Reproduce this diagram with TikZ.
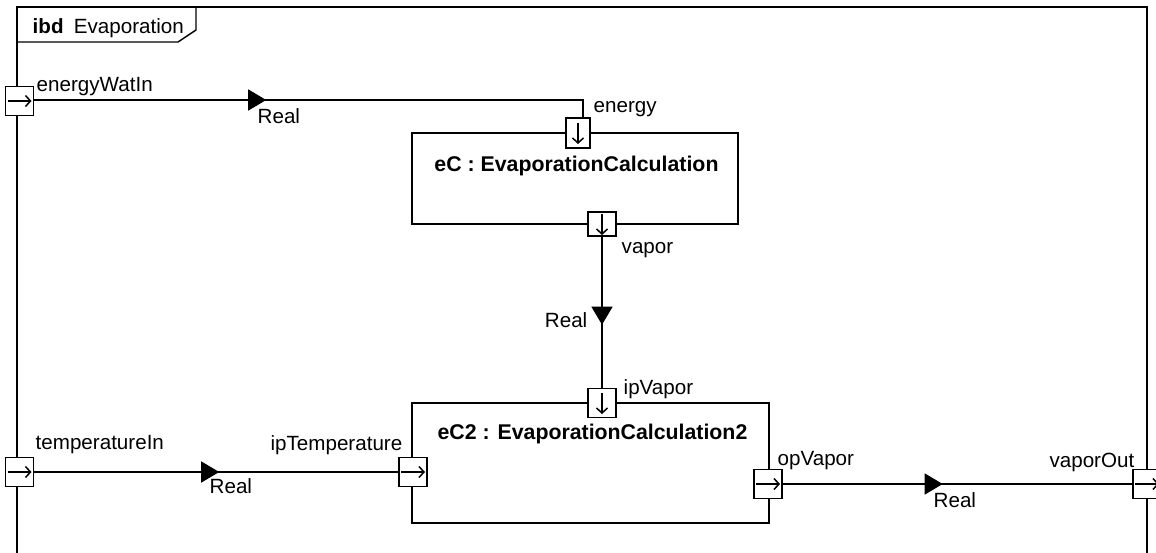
\documentclass[tikz,border=0pt]{standalone}
\usepackage{fontspec}
\setmainfont{Liberation Sans}
\usetikzlibrary{arrows.meta, positioning, decorations.markings}

\begin{document}
\begin{tikzpicture}[
    x=1pt, y=-1pt,
    line width=1.4pt,
    lbl/.style={font=\fontsize{20.6}{23}\selectfont, inner sep=0pt},
    hdr/.style={font=\fontsize{21.3}{23}\selectfont\bfseries, inner sep=0pt},
    block/.style={draw, inner sep=0pt},
    port/.style={draw, fill=white, inner sep=0pt, minimum width=28pt, minimum height=29pt},
    dir/.style={line width=1.5pt, -{Straight Barb[length=5pt,width=11pt]}},
    flow/.style={postaction={decorate}, decoration={markings, mark=at position #1 with {\arrow{Triangle[length=18pt,width=21pt]}}}}
]
\useasboundingbox (0,0) rectangle (1156,552);
% frame
\draw (17,565) -- (17,7) -- (1147,7) -- (1147,565);
\draw (17,42) -- (178,42) -- (196,30) -- (196,7);
\node[lbl, anchor=base west] (ttl) at (32,33) {\textbf{ibd}\enspace Evaporation};

% parts
\node[block, minimum width=326pt, minimum height=91pt] (eC) at (575,178.5) {};
\node[hdr, anchor=base] (eCname) at (576.5,171) {eC : EvaporationCalculation};
\node[block, minimum width=357pt, minimum height=120pt] (eC2) at (590.5,463) {};
\node[hdr, anchor=base] (eC2name) at (592.5,439) {eC2 : EvaporationCalculation2};

% ports
\node[port] (pEnergyIn) at (19.5,101) {};
\node[port] (pTempIn) at (19.5,472) {};
\node[port] (pVaporOut) at (1147,484) {};
\node[port, minimum width=24pt, minimum height=30pt] (pEnergy) at (578,133) {};
\node[port, minimum height=24pt] (pVapor) at (602,224) {};
\node[port] (pIpVapor) at (602,403) {};
\node[port] (pIpTemp) at (413,472) {};
\node[port] (pOpVapor) at (768,484) {};
\foreach \p in {pEnergyIn, pTempIn, pVaporOut, pIpTemp, pOpVapor}
  \draw[dir] ([xshift=-12pt]\p.center) -- ([xshift=12pt]\p.center);
\foreach \p in {pEnergy, pVapor, pIpVapor}
  \draw[dir] ([yshift=10pt]\p.center) -- ([yshift=-11pt]\p.center);

% port names
\node[lbl, anchor=base west] at (36,91) {energyWatIn};
\node[lbl, anchor=base west] at (593,112) {energy};
\node[lbl, anchor=base west] at (621,253) {vapor};
\node[lbl, anchor=base west] at (623,394) {ipVapor};
\node[lbl, anchor=base west] at (35,449) {temperatureIn};
\node[lbl, anchor=base east] at (403,450) {ipTemperature};
\node[lbl, anchor=base west] at (777,465) {opVapor};
\node[lbl, anchor=base east] at (1135,467) {vaporOut};

% connectors
\draw[flow=232pt] (pEnergyIn.east |- 0,100) -- (583,100) coordinate (bend) -- (bend |- pEnergy.north);
\draw[flow=88pt] (pVapor) -- (pIpVapor);
\draw[flow=185pt] (pTempIn) -- (pIpTemp);
\draw[flow=160pt] (pOpVapor) -- (pVaporOut);

% item flow types
\node[lbl, anchor=base west] at (257,123) {Real};
\node[lbl, anchor=base east] at (588,327) {Real};
\node[lbl, anchor=base west] at (209,493) {Real};
\node[lbl, anchor=base west] at (933,507) {Real};
\end{tikzpicture}
\end{document}
